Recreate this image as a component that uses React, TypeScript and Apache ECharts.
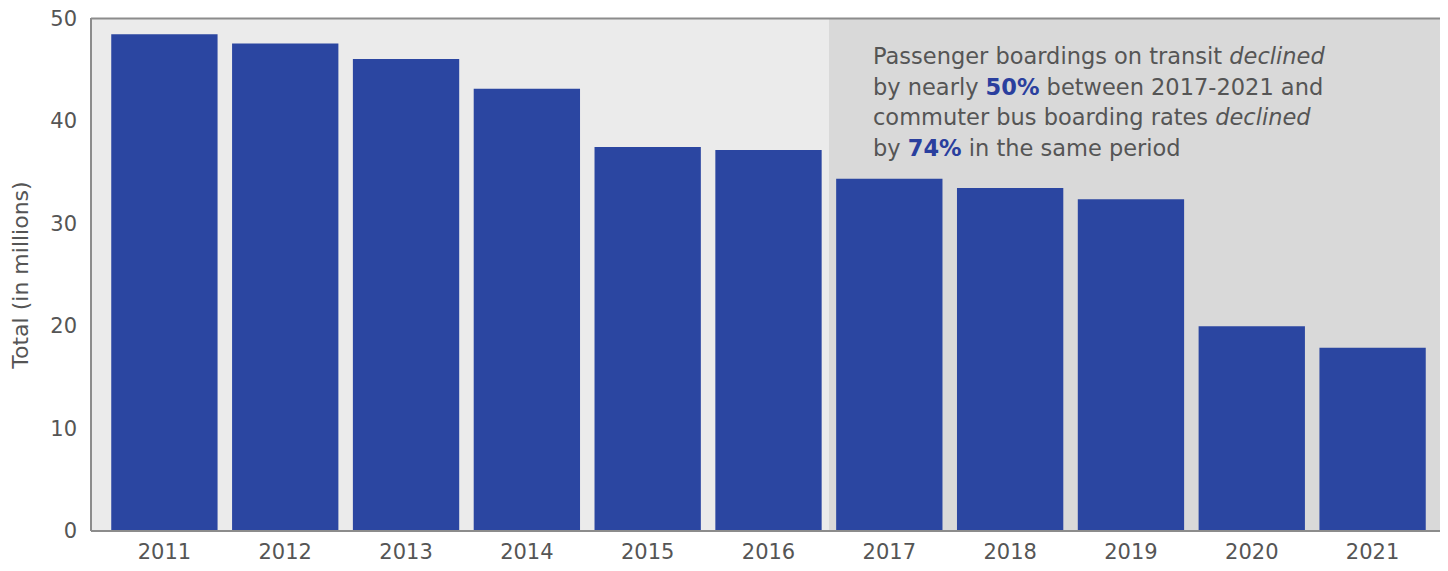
import React, { useEffect, useRef } from "react";
import * as echarts from "echarts";

const years = ["2011", "2012", "2013", "2014", "2015", "2016", "2017", "2018", "2019", "2020", "2021"];
const boardings = [48.5, 47.6, 46.1, 43.2, 37.5, 37.2, 34.4, 33.5, 32.4, 20.0, 17.9];
const yTicks = { min: 0, max: 50, interval: 10 };
const axisTitle = "Total (in millions)";
const noteLines = [
  "{n|Passenger boardings on transit }{i|declined}",
  "{n|by nearly }{b|50%}{n| between 2017-2021 and}",
  "{n|commuter bus boarding rates }{i|declined}",
  "{n|by }{b|74%}{n| in the same period}",
];

const FONT = "DejaVu Sans";
const TEXT = "#555555";
const BLUE = "#2b46a1";

export default function App() {
  const ref = useRef<HTMLDivElement>(null);
  useEffect(() => {
    if (!ref.current) return;
    const chart = echarts.init(ref.current, null, { renderer: "svg" });
    const L = 91, T = 18, R = 1444, B = 531, SPLIT = 829;
    const NS = 22.5;
    const rich = {
      n: { fontFamily: FONT, fontSize: NS, fill: TEXT, color: TEXT },
      i: { fontFamily: FONT, fontSize: NS, fill: TEXT, color: TEXT, fontStyle: "italic" },
      b: { fontFamily: FONT, fontSize: NS, fill: "#2a3f9e", color: "#2a3f9e", fontWeight: "bold" },
    };
    chart.setOption({
      animation: false,
      grid: { left: 104, right: 15, top: 19, bottom: 40, containLabel: false },
      xAxis: {
        type: "category",
        data: years,
        axisLine: { show: false },
        axisTick: { show: false },
        axisLabel: { color: TEXT, fontSize: 21, fontFamily: FONT, margin: 10 },
      },
      yAxis: {
        type: "value",
        min: yTicks.min,
        max: yTicks.max,
        interval: yTicks.interval,
        axisLine: { show: false },
        axisTick: { show: false },
        splitLine: { show: false },
        axisLabel: { color: TEXT, fontSize: 21, fontFamily: FONT, margin: 27 },
      },
      series: [
        {
          type: "bar",
          data: boardings,
          barCategoryGap: "12%",
          itemStyle: { color: BLUE },
          z: 5,
        },
      ],
      graphic: [
        { type: "rect", z: -10, shape: { x: L, y: T, width: R - L, height: B - T }, style: { fill: "#ebebeb" }, silent: true },
        { type: "rect", z: -9, shape: { x: SPLIT, y: T, width: R - SPLIT, height: B - T }, style: { fill: "#d9d9d9" }, silent: true },
        { type: "line", z: 10, shape: { x1: L, y1: T + 0.5, x2: R, y2: T + 0.5 }, style: { stroke: "#8c8c8c", lineWidth: 2 } },
        { type: "line", z: 10, shape: { x1: R, y1: T, x2: R, y2: B }, style: { stroke: "#8c8c8c", lineWidth: 2 } },
        { type: "line", z: 10, shape: { x1: L, y1: T, x2: L, y2: B }, style: { stroke: "#8c8c8c", lineWidth: 2 } },
        { type: "line", z: 10, shape: { x1: L, y1: B, x2: R, y2: B }, style: { stroke: "#8c8c8c", lineWidth: 2 } },
        {
          type: "text",
          x: 20,
          y: 275,
          rotation: Math.PI / 2,
          style: { text: axisTitle, fontFamily: FONT, fontSize: 22, fill: TEXT, align: "center", verticalAlign: "middle" },
        },
        ...noteLines.map((t, k) => ({
          type: "text",
          z: 20,
          x: 873,
          y: 56 + k * 30.5,
          style: { text: t, rich, fill: TEXT, verticalAlign: "middle", align: "left" },
        })),
      ],
    });
    return () => chart.dispose();
  }, []);
  return <div ref={ref} style={{ width: 1448, height: 571, margin: -8 }} />;
}
